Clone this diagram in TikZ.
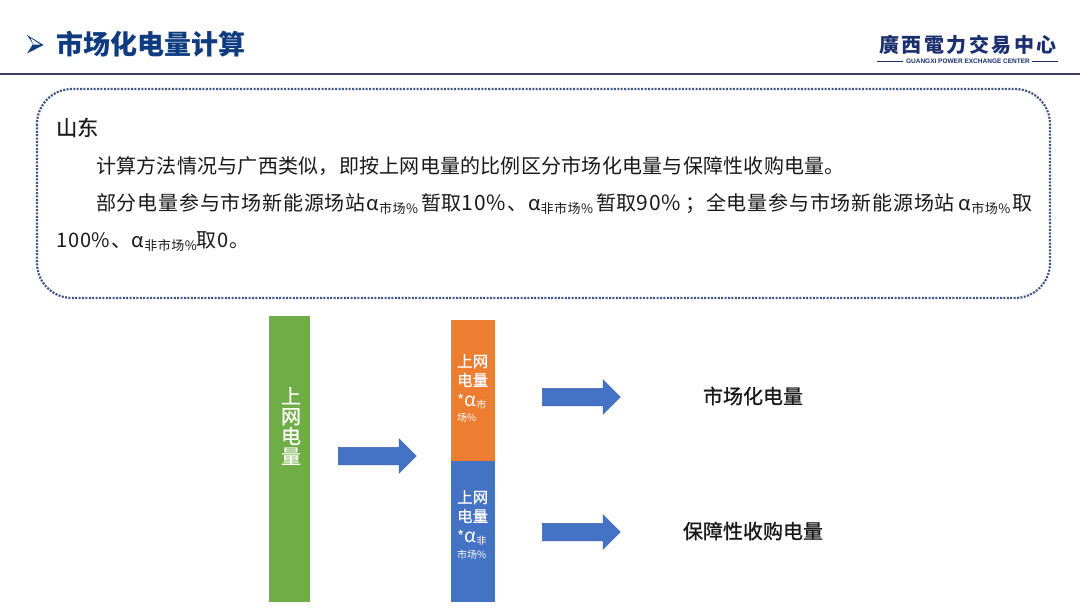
\documentclass[tikz,border=0pt]{standalone}
\usepackage{fontspec}
\usepackage{xcolor}
\usetikzlibrary{shapes.arrows}
\setmainfont{Noto Sans CJK SC}
\newfontfamily\logofont{Noto Sans CJK TC}
\newfontfamily\logolatin{Liberation Sans}
\newfontfamily\medfont[FakeBold=0.5]{Noto Sans CJK SC}
\newfontfamily\heavyfont[FakeBold=1]{Noto Sans CJK SC}
\newfontfamily\wideone[LetterSpace=1.2]{Noto Sans CJK SC}
\newfontfamily\widetwo[LetterSpace=4]{Noto Sans CJK SC}
\definecolor{titleblue}{HTML}{0F3C80}
\definecolor{rulenavy}{HTML}{3B4160}
\definecolor{boxdots}{HTML}{3F5586}
\definecolor{bargreen}{HTML}{70AD47}
\definecolor{barorange}{HTML}{ED7D31}
\definecolor{barblue}{HTML}{4472C4}
\definecolor{logonavy}{HTML}{1B2F6E}
\newcommand{\fsize}[1]{\fontsize{#1pt}{#1pt}\selectfont}
\newcommand{\subsm}[1]{\raisebox{-3pt}{\fsize{13}#1}}
\tikzset{
    bodytext/.style={anchor=base west, inner sep=0pt, text=black!90, font=\fsize{20}},
    barfill/.style={anchor=north west, inner sep=0pt, minimum width=#1pt},
    barlabel/.style={anchor=base west, inner sep=0pt, text=white, font=\medfont\fsize{15.5}},
    barsmall/.style={anchor=base west, inner sep=0pt, text=white, font=\fsize{10}},
    blockarrow/.style={single arrow, draw=barblue!85!black, fill=barblue, line width=0.5pt,
      minimum height=78pt, single arrow head extend=8.5pt,
      single arrow head indent=0pt, inner sep=0pt},
    resulttext/.style={inner sep=0pt, text=black!90, font=\heavyfont\fsize{20}}
}
\begin{document}
\begin{tikzpicture}[x=1pt, y=-1pt]
    \useasboundingbox (0,0) rectangle (1080,608);
    \fill[white] (0,0) rectangle (1080,608);
    \fill[titleblue] (27,35) -- (43.5,45) -- (27,53.5) -- (33,44) -- cycle;
    \fill[white] (30.5,38) -- (40,44.5) -- (33.5,44.5) -- cycle;
    \node[anchor=base west, inner sep=0pt, text=titleblue, font=\fsize{27}\bfseries] (title) at (56,54) {市场化电量计算};
    \node[anchor=center, inner sep=0pt, text=logonavy, font=\logofont\fsize{20}\bfseries] (logocn) at (968,45) {廣\hspace{2.5pt}西\hspace{2.5pt}電\hspace{2.5pt}力\hspace{2.5pt}交\hspace{2.5pt}易\hspace{2.5pt}中\hspace{2.5pt}心};
    \node[anchor=center, inner sep=0pt, text=logonavy, font=\logolatin\fsize{6.5}\bfseries] (logoen) at (968,61) {GUANGXI POWER EXCHANGE CENTER};
    \coordinate (logoa) at (877,61);
    \coordinate (logob) at (903,61);
    \coordinate (logoc) at (1032,61);
    \coordinate (logod) at (1058,61);
    \draw[logonavy, line width=0.8pt] (logoa) -- (logob);
    \draw[logonavy, line width=0.8pt] (logoc) -- (logod);
    \draw[rulenavy, line width=2pt] (0,74) -- (1080,74);
    \draw[boxdots, line width=2.2pt, dash pattern=on 2pt off 1.4pt, rounded corners=35pt]
      (37,89) rectangle (1050,298);
    \node[bodytext, font=\medfont\fsize{21}] (region) at (56,135.5) {山东};
    \node[bodytext, font=\wideone\fsize{20}] (lineone) at (96,173) {计算方法情况与广西类似，即按上网电量的比例区分市场化电量与保障性收购电量。};
    \node[bodytext, font=\widetwo\fsize{20}] (linetwo) at (96,210) {部分电量参与市场新能源场站α\subsm{市场\%}\hspace{3pt}暂取{\fsize{21}10\%}\hspace{1pt}、α\subsm{非市场\%}\hspace{3pt}暂取{\fsize{21}90\%}\hspace{4pt}；全电量参与市场新能源场站\hspace{4pt}α\subsm{市场\%}\hspace{2pt}取};
    \node[bodytext, font=\widetwo\fsize{20}] (linethree) at (56,247) {100\%、α\subsm{非市场\%}取0。};
    \node[barfill=41, minimum height=286pt, fill=bargreen] (gridbar) at (269,316) {};
    \node[anchor=center, align=center, inner sep=0pt, text=white, font=\medfont\fsize{20}] (gridtext) at (291,426) {上\\网\\电\\量};
    \node[barfill=44, minimum height=141pt, fill=barorange] (marketbar) at (451,320) {};
    \node[barfill=44, minimum height=141pt, fill=barblue] (otherbar) at (451,461) {};
    \node[barlabel] (marketa) at (457,367) {上网};
    \node[barlabel] (marketb) at (457,386) {电量};
    \node[barlabel, font=\fsize{15.5}] (marketc) at (457,406) {*{\fsize{19}α}\raisebox{-2pt}{\fsize{10}市}};
    \node[barsmall] (marketd) at (457,421) {场\%};
    \node[barlabel] (othera) at (457,503) {上网};
    \node[barlabel] (otherb) at (457,522) {电量};
    \node[barlabel, font=\fsize{15.5}] (otherc) at (457,542) {*{\fsize{19}α}\raisebox{-2pt}{\fsize{10}非}};
    \node[barsmall] (otherd) at (457,558) {市场\%};
    \node[blockarrow] (splitarrow) at (373,456) {\rule{0pt}{17pt}};
    \node[blockarrow] (marketarrow) at (577,397) {\rule{0pt}{17pt}};
    \node[blockarrow] (otherarrow) at (577,532) {\rule{0pt}{17pt}};
    \node[resulttext] (markettext) at (753,396) {市场化电量};
    \node[resulttext] (othertext) at (753,531) {保障性收购电量};
\end{tikzpicture}
\end{document}
